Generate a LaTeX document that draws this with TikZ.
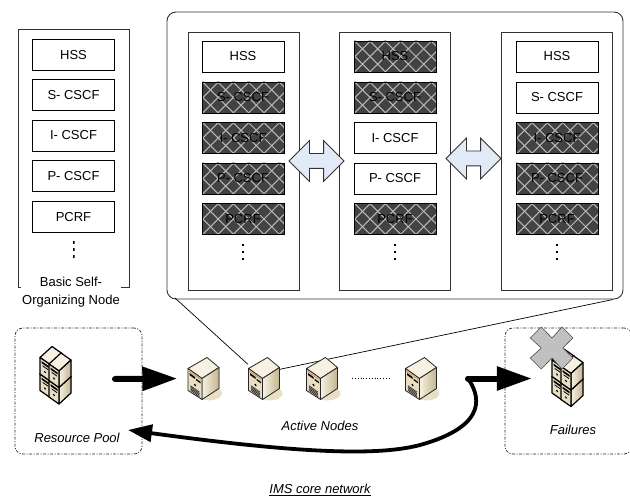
\documentclass[tikz,border=0pt]{standalone}
\usepackage{fontspec}
\setmainfont{Liberation Sans}
\usepackage{tikz}
\usetikzlibrary{arrows.meta,shapes.arrows}

\definecolor{latdark}{RGB}{66,66,66}
\definecolor{latline}{RGB}{185,185,185}
\definecolor{swapfill}{RGB}{226,234,247}
\definecolor{srvtop}{RGB}{246,241,226}
\definecolor{srvfront}{RGB}{232,222,196}
\definecolor{srvtan}{RGB}{196,180,142}
\definecolor{srvshadow}{RGB}{232,224,198}
\definecolor{srvband}{RGB}{214,150,90}
\definecolor{crossgray}{RGB}{192,192,192}

\newcommand{\stackunit}[1]{
\begin{scope}[shift={#1}, draw=black, line width=1.2pt, line join=round]
\filldraw[fill=srvtop] (0,0) -- (12,-11) -- (22,-4) -- (10,7) -- cycle;
\filldraw[left color=srvtop, right color=srvtan] (10,7) -- (22,-4) -- (22,12.5) -- (10,23.5) -- cycle;
\filldraw[fill=srvfront] (0,0) -- (10,7) -- (10,23.5) -- (0,16.5) -- cycle;
\begin{scope}[yslant=-.7]
\fill[black] (1.5,2.5) rectangle (8.5,4.5);
\fill[black] (2.5,6) rectangle (8,7);
\fill[black] (5,11) circle (1.1);
\end{scope}
\end{scope}
}

\tikzset{
  server/.pic={
    \fill[srvshadow] (6,15) ellipse (13 and 7);
    \filldraw[fill=srvtop, draw=black!85, line width=.8pt, line join=round] (-15,-10) -- (4,-21) -- (16,-11) -- (-1,0) -- cycle;
    \filldraw[left color=srvtop, right color=srvtan, draw=black!85, line width=.8pt, line join=round] (-1,0) -- (16,-11) -- (16,10) -- (-1,21) -- cycle;
    \filldraw[fill=srvfront, draw=black!85, line width=.8pt, line join=round] (-15,-10) -- (-1,0) -- (-1,21) -- (-15,12) -- cycle;
    \begin{scope}[shift={(-15,-10)}, yslant=-.71]
      \draw[srvband, line width=.9pt] (.5,2) -- (13.5,2);
      \fill[black] (1.5,3.5) rectangle (7,5.5);
      \fill[black] (8,4.5) rectangle (12.5,6);
      \fill[black] (7,11.5) circle (1.2);
      \foreach \v in {15.5,17,18.5,20} {
        \draw[black!80, line width=.8pt] (2.5,\v) -- (11.5,\v);
      }
    \end{scope}
  },
  serverstack/.pic={
    \stackunit{(-15.5,-2)}
    \stackunit{(-15.5,-18.5)}
    \stackunit{(-6.5,4.5)}
    \stackunit{(-6.5,-12)}
  }
}

\begin{document}
\begin{tikzpicture}[x=1pt, y=-1pt]

\tikzstyle{every node} = [font=\fontsize{13}{18}\selectfont, inner sep=0pt]
\tikzstyle{panel} = [rectangle, draw=black!80, line width=.8pt, minimum width=111pt, minimum height=258pt]
\tikzstyle{stagebox} = [rectangle, draw=black, line width=.9pt, minimum width=82pt, minimum height=31pt]
\tikzstyle{failedbox} = [stagebox, fill=latdark, path picture={
  \foreach \k in {-5,...,5} {
    \draw[latline, line width=1pt] (path picture bounding box.center) ++(\k*15.3+5.7-24,-24) -- ++(48,48);
    \draw[latline, line width=1pt] (path picture bounding box.center) ++(\k*15.3+5.7-24,24) -- ++(48,-48);
  }}]
\tikzstyle{moredots} = [rectangle, minimum width=2pt, minimum height=16pt, path picture={
  \foreach \v in {-7,0,7} {
    \fill[black] (path picture bounding box.center) ++(-1,\v-1.3) rectangle ++(2,2.6);
  }}]
\tikzstyle{swaparrow} = [double arrow, draw=black!80, fill=swapfill, line width=.8pt, inner xsep=0pt, inner ysep=7pt, minimum height=55pt, double arrow head extend=13pt, double arrow tip angle=90]
\tikzstyle{zonebox} = [rectangle, draw=black!85, line width=.7pt, rounded corners=8pt, dash pattern=on 3pt off 1.5pt on 1pt off 1.5pt, minimum width=127pt, minimum height=126pt]
\tikzstyle{srvslot} = [rectangle, minimum width=31pt, minimum height=43pt]
\tikzstyle{flowthick} = [-{Triangle[length=35pt,width=23pt]}, line width=6pt, line cap=round]

\useasboundingbox (0,0) rectangle (630,500);

\node[panel] (basic) at (73.5,158) {};
\node (hssz) at (73.5,55) [stagebox] {HSS};
\node (scscfz) at (73.5,95) [stagebox] {S- CSCF};
\node (icscfz) at (73.5,135.5) [stagebox] {I- CSCF};
\node (pcscfz) at (73.5,176) [stagebox] {P- CSCF};
\node (pcrfz) at (73.5,217) [stagebox] {PCRF};
\node[moredots] (dotsz) at (73.5,249.5) {};
\node[fill=white, inner sep=1pt, align=center] (basiclabel) at (71,292) {Basic Self-\\Organizing Node};

\node[rectangle, draw=black!80, line width=.9pt, rounded corners=9pt, minimum width=456pt, minimum height=287pt] (activebig) at (395,155.5) {};

\node[panel] (panela) at (243.5,161) {};
\node (hssa) at (243,56.5) [stagebox] {HSS};
\node (scscfa) at (243,97.5) [failedbox] {S- CSCF};
\node (icscfa) at (243,138) [failedbox] {I- CSCF};
\node (pcscfa) at (243,178.5) [failedbox] {P- CSCF};
\node (pcrfa) at (243,219) [failedbox] {PCRF};
\node[moredots] (dotsa) at (243,252) {};

\node[panel] (panelb) at (395,161) {};
\node (hssb) at (395,56.5) [failedbox] {HSS};
\node (scscfb) at (395,97.5) [failedbox] {S- CSCF};
\node (icscfb) at (395,138) [stagebox] {I- CSCF};
\node (pcscfb) at (395,178.5) [stagebox] {P- CSCF};
\node (pcrfb) at (395,219) [failedbox] {PCRF};
\node[moredots] (dotsb) at (395,252) {};

\node[panel] (panelc) at (557,161) {};
\node (hssc) at (557,56.5) [stagebox] {HSS};
\node (scscfc) at (557,97.5) [stagebox] {S- CSCF};
\node (icscfc) at (557,138) [failedbox] {I- CSCF};
\node (pcscfc) at (557,178.5) [failedbox] {P- CSCF};
\node (pcrfc) at (557,219) [failedbox] {PCRF};
\node[moredots] (dotsc) at (557,252) {};

\node[swaparrow] (swapab) at (316.5,161) {};
\node[swaparrow] (swapbc) at (473.5,158.5) {};

\node[zonebox] (poolzone) at (78.5,391) {};
\node[zonebox] (failzone) at (568.5,391) {};

\node[srvslot] (srva) at (203,378.5) {};
\node[srvslot] (srvb) at (263.5,378.5) {};
\node[srvslot] (srvc) at (321.5,378.5) {};
\node[srvslot] (srvd) at (420.5,378.5) {};
\node[srvslot, minimum height=56pt] (poolstack) at (55.5,376) {};
\node[srvslot, minimum height=56pt] (failstack) at (567.5,378.5) {};

\coordinate (calla) at (175,298);
\coordinate (callb) at (613,299.5);
\coordinate (poolout) at (115,379);
\coordinate (poolin) at (128,430);
\coordinate (joint) at (468,378.5);

\draw[-, line width=.7pt] (calla) -- (srvb);
\draw[-, line width=.7pt] (callb) -- (srvb.30);
\draw[-, dotted, line width=.8pt, shorten <=15pt, shorten >=15pt] (srvc.east) -- (srvd.west);

\pic at (srva) {server};
\pic at (srvb) {server};
\pic at (srvc) {server};
\pic at (srvd) {server};
\pic at (poolstack) {serverstack};
\pic at (failstack) {serverstack};

\draw[fill=crossgray, draw=black!70, line width=.6pt, shift={(552,348)}] (-21.7,-10) -- (-10.7,-21) -- (0,-10) -- (10,-21) -- (21,-10) -- (10.7,0) -- (21,10) -- (10,21) -- (0,10) -- (-10.7,21) -- (-21.7,10) -- (-10.7,0) -- cycle;

\draw[flowthick, shorten >=10pt] (poolout) -- (srva.west);
\draw[-{Triangle[length=24pt,width=17pt]}, line width=3.8pt, line cap=round] (joint) .. controls (478,393) and (492,425) .. (420,445) .. controls (375,457) and (290,452) .. (poolin);
\draw[flowthick, shorten >=20pt] (joint) -- (failstack.west);

\node[font=\fontsize{13}{18}\selectfont\itshape] (poollabel) at (77,438) {Resource Pool};
\node[font=\fontsize{13}{18}\selectfont\itshape] (activelabel) at (320,426) {Active Nodes};
\node[font=\fontsize{13}{18}\selectfont\itshape] (faillabel) at (573,430) {Failures};
\node[font=\fontsize{13}{18}\selectfont\itshape] (corelabel) at (320,490) {\underline{IMS core network}};

\end{tikzpicture}
\end{document}
